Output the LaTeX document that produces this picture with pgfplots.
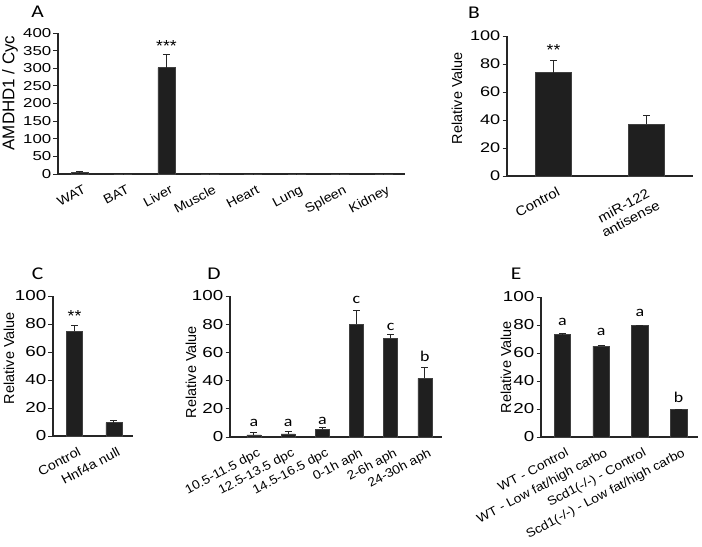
\documentclass[border=0pt]{standalone}
\usepackage{pgfplots}
\pgfplotsset{compat=1.18}
\usepackage{fontspec}
\setmainfont{Liberation Sans}[FakeStretch=1.1]
\newfontfamily\plainfont{Liberation Sans}
\newfontfamily\widefont{Liberation Sans}[FakeStretch=1.3]
\newfontfamily\calfont{Carlito}[FakeStretch=1.2]
\begin{document}
\begin{tikzpicture}
\useasboundingbox (0,0) rectangle (702bp,-547bp);
\pgfplotsset{
 panel/.style={
   scale only axis, anchor=south west,
   axis x line*=bottom, axis y line*=left,
   axis line style={black!85, line width=1.1bp},
   ymin=0, xtick=data,
   xtick style={draw=none},
   ytick style={black!85, line width=1bp},
   tick align=outside, major tick length=4.5bp,
   ybar, bar width=0.4,
   xticklabel style={xshift=3bp, yshift=-5bp, rotate=28, anchor=north east, inner sep=0.5bp, align=center},
   yticklabel style={inner sep=2bp},
   /pgf/number format/assume math mode=true,
   clip=false,
 },
 errb/.style={fill=black!88, draw=black!75, line width=0.5bp,
   error bars/.cd, y dir=plus, y explicit,
   error bar style={black!85, line width=1bp},
   error mark options={black!85, line width=1bp, mark size=3.5bp, rotate=90}},
}
% Panel A
\begin{axis}[panel, at={(58bp,-174bp)}, width=347bp, height=141bp,
  xmin=-0.5, xmax=7.5, ymax=400, ytick={0,50,...,400}, bar width=0.39,
  xticklabel style={font=\fontsize{13}{13}\selectfont},
  yticklabel style={font=\widefont\fontsize{13}{13}\selectfont},
  xticklabels={WAT,BAT,Liver,Muscle,Heart,Lung,Spleen,Kidney}]
\addplot[errb] table[x=x,y=y,y error=e]{
x y e
0 4.5 1.5
1 0.6 0.3
2 302 36
3 0.6 0.3
4 0.3 0.1
5 0.3 0.1
6 0.6 0.3
7 0.3 0.1
};
\node[font=\fontsize{16}{16}\selectfont] at (axis cs:2,364) {***};
\end{axis}
% Panel B
\begin{axis}[panel, at={(507bp,-176bp)}, width=186bp, height=140bp,
  xmin=-0.5, xmax=1.5, ymax=100, ytick={0,20,...,100}, bar width=0.39,
  xticklabel style={font=\fontsize{13.5}{15}\selectfont},
  yticklabel style={font=\widefont\fontsize{14}{14}\selectfont},
  xticklabels={Control,{miR-122\\antisense}}]
\addplot[errb] table[x=x,y=y,y error=e]{
x y e
0 73.8 8.8
1 37.0 6.0
};
\node[font=\fontsize{16}{16}\selectfont] at (axis cs:0,90) {**};
\end{axis}
% Panel C
\begin{axis}[panel, at={(53bp,-436bp)}, width=80.4bp, height=140bp,
  xmin=-0.55, xmax=1.5, ymax=100, ytick={0,20,...,100}, bar width=0.41,
  xticklabel style={font=\fontsize{13}{13}\selectfont},
  yticklabel style={font=\widefont\fontsize{14.5}{14.5}\selectfont},
  xticklabels={Control,Hnf4a null}]
\addplot[errb] table[x=x,y=y,y error=e]{
x y e
0 74.8 4.0
1 9.6 1.7
};
\node[font=\fontsize{16}{16}\selectfont] at (axis cs:0,86) {**};
\end{axis}
% Panel D
\begin{axis}[panel, at={(230bp,-437bp)}, width=212bp, height=141bp,
  xmin=-0.7, xmax=5.5, ymax=100, ytick={0,20,...,100}, bar width=0.41,
  xticklabel style={font=\fontsize{12.5}{12.5}\selectfont},
  yticklabel style={font=\widefont\fontsize{14.5}{14.5}\selectfont},
  xticklabels={10.5-11.5 dpc,12.5-13.5 dpc,14.5-16.5 dpc,0-1h aph,2-6h aph,24-30h aph}]
\addplot[errb] table[x=x,y=y,y error=e]{
x y e
0 1.5 1.5
1 2.3 1.3
2 5.5 0.9
3 80.0 9.9
4 69.9 2.8
5 41.6 7.8
};
\begin{scope}[every node/.style={font=\calfont\fontsize{15}{15}\selectfont}]
\node at (axis cs:0,10) {a};
\node at (axis cs:1,10) {a};
\node at (axis cs:2,11.5) {a};
\node at (axis cs:3,97.5) {c};
\node at (axis cs:4,78) {c};
\node at (axis cs:5,57.5) {b};
\end{scope}
\end{axis}
% Panel E
\begin{axis}[panel, at={(541bp,-437bp)}, width=157bp, height=140bp,
  xmin=-0.55, xmax=3.5, ymax=100, ytick={0,20,...,100}, bar width=0.42,
  xticklabel style={font=\fontsize{12.5}{12.5}\selectfont},
  yticklabel style={font=\widefont\fontsize{14.5}{14.5}\selectfont},
  xticklabels={WT - Control,WT - Low fat/high carbo,Scd1(-/-) - Control,Scd1(-/-) - Low fat/high carbo}]
\addplot[errb] table[x=x,y=y,y error=e]{
x y e
0 73.1 0.8
1 65.0 0.5
2 79.5 0.4
3 19.6 0.4
};
\begin{scope}[every node/.style={font=\calfont\fontsize{15}{15}\selectfont}]
\node at (axis cs:0,82) {a};
\node at (axis cs:1,75) {a};
\node at (axis cs:2,88.6) {a};
\node at (axis cs:3,28) {b};
\end{scope}
\end{axis}
% y labels
\begin{scope}[every node/.style={rotate=90, font=\plainfont\fontsize{14.5}{14.5}\selectfont}]
\node[font=\plainfont\fontsize{17}{17}\selectfont] at (10bp,-93bp) {AMDHD1 / Cyc};
\node at (457bp,-98bp) {Relative Value};
\node at (9bp,-358bp) {Relative Value};
\node at (191bp,-372bp) {Relative Value};
\node at (506bp,-367bp) {Relative Value};
\end{scope}
% panel letters
\begin{scope}[every node/.style={font=\calfont\fontsize{18}{18}\selectfont}]
\node at (37.5bp,-12bp) {A};
\node at (474bp,-13bp) {B};
\node at (37.5bp,-274bp) {C};
\node at (214bp,-274bp) {D};
\node at (516bp,-274bp) {E};
\end{scope}
\end{tikzpicture}
\end{document}
